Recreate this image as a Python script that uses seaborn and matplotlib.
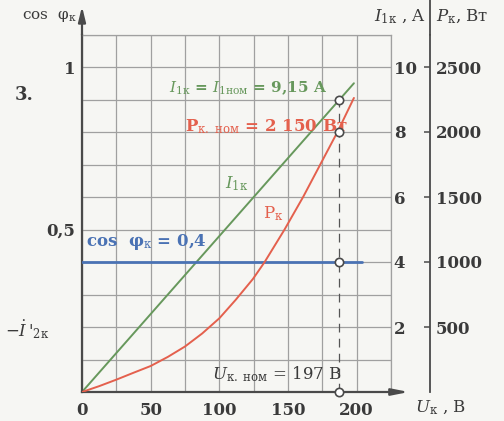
import numpy as np
import pandas as pd
import seaborn as sns
import matplotlib.pyplot as plt

# data
u_i = [0, 198]
i_1k = [0, 9.5]

u_p = [0, 12.5, 25, 37.5, 50, 62.5, 75, 87.5, 100, 112, 124.5, 133, 147.5, 161, 173, 186, 198]
p_k = [0, 45, 95, 148, 200, 270, 350, 450, 567, 710, 870, 1000, 1250, 1500, 1740, 2000, 2262]

u_cos = [0, 204]
cos_k = [0.4, 0.4]

u_nom = 187
i_nom = 9.0
p_nom = 2000

x_ticks = [0, 50, 100, 150, 200]
i_ticks = [2, 4, 6, 8, 10]
p_ticks = [500, 1000, 1500, 2000, 2500]
cos_ticks = [0.5, 1]
cos_labels = ['0,5', '1']

sns.set_style('white')
plt.rcParams['font.family'] = ['DejaVu Serif']
plt.rcParams['mathtext.fontset'] = 'dejavuserif'

bg = '#f6f6f3'
dark = '#4a4a4a'
txt = '#3a3a3a'
gridc = '#a0a0a0'
green = '#67985c'
red = '#e4604d'
blue = '#4a72b4'

fig = plt.figure(figsize=(5.04, 4.21), dpi=100, facecolor=bg)
ax = fig.add_axes([82/504, 29/421, 309/504, 357.5/421])
ax.set_facecolor(bg)
ax.set_xlim(0, 225)
ax.set_ylim(0, 11)

ax_cos = ax.twinx()
ax_p = ax.twinx()

# grid
ax.set_xticks(np.arange(0, 226, 25))
ax.set_xticklabels([str(int(v)) if v in x_ticks else '' for v in np.arange(0, 226, 25)])
ax.set_yticks(np.arange(0, 12, 1))
ax.set_yticklabels([str(v) if v in i_ticks else '' for v in range(12)])
ax.yaxis.tick_right()
ax.grid(True, color=gridc, lw=0.9)
ax.tick_params(axis='both', length=0, labelsize=12, labelcolor=txt)
ax.tick_params(axis='x', pad=7)
ax.tick_params(axis='y', pad=2)
for lab in ax.get_xticklabels() + ax.get_yticklabels():
    lab.set_fontweight('bold')
for s in ['top', 'right']:
    ax.spines[s].set_color(gridc)
    ax.spines[s].set_linewidth(0.9)
for s in ['left', 'bottom']:
    ax.spines[s].set_color(dark)
    ax.spines[s].set_linewidth(1.6)

# axis arrows
ax.annotate('', xy=(0, 11.95), xytext=(0, 10.9), annotation_clip=False,
            arrowprops=dict(arrowstyle='-|>,head_length=0.9,head_width=0.22', color=dark, lw=1.6))
ax.annotate('', xy=(240, 0), xytext=(224, 0), annotation_clip=False,
            arrowprops=dict(arrowstyle='-|>,head_length=1.0,head_width=0.2', color=dark, lw=1.6))

# curves
sns.lineplot(x=u_i, y=i_1k, ax=ax, color=green, lw=1.4)
ax.plot([u_nom, u_nom], [0, i_nom], color='#555555', lw=0.9, ls=(0, (7, 5)))

ax_cos.set_ylim(0, 1.1)
ax_cos.yaxis.tick_left()
ax_cos.set_yticks(cos_ticks)
ax_cos.set_yticklabels(cos_labels)
ax_cos.tick_params(axis='y', length=0, pad=5, labelsize=12, labelcolor=txt)
for lab in ax_cos.get_yticklabels():
    lab.set_fontweight('bold')
for s in ax_cos.spines.values():
    s.set_visible(False)
sns.lineplot(x=u_cos, y=cos_k, ax=ax_cos, color=blue, lw=2.0)

ax_p.set_ylim(0, 2750)
ax_p.spines['right'].set_position(('axes', 348/309))
ax_p.spines['right'].set_color(dark)
ax_p.spines['right'].set_linewidth(1.3)
for s in ['top', 'left', 'bottom']:
    ax_p.spines[s].set_visible(False)
ax_p.set_yticks(p_ticks)
ax_p.tick_params(axis='y', direction='in', length=4, width=1.1, color=dark,
                 pad=4, labelsize=12, labelcolor=txt)
for lab in ax_p.get_yticklabels():
    lab.set_fontweight('bold')
ax_p.plot([348/309, 348/309], [1, 392/357.5], transform=ax_p.transAxes,
          color=dark, lw=1.3, clip_on=False)
sns.lineplot(x=u_p, y=p_k, ax=ax_p, color=red, lw=1.4)

# marker circles
mk = dict(marker='o', ms=6, mfc='white', mec=dark, mew=1.2, ls='none', clip_on=False, zorder=5)
ax.plot([u_nom, u_nom], [i_nom, 0], **mk)
ax_p.plot([u_nom], [p_nom], **mk)
ax_cos.plot([u_nom], [0.4], **mk)
for a in [ax, ax_cos, ax_p]:
    a.set_xlabel('')
    a.set_ylabel('')
ax_cos.set_zorder(2)
ax_p.set_zorder(3)
ax_cos.patch.set_visible(False)
ax_p.patch.set_visible(False)

# labels inside
ax.text(63, 9.35, r'$I_{\mathrm{1к}}$ = $I_{\mathrm{1ном}}$ = 9,15 A', color=green,
        fontsize=11, fontweight='bold', va='center')
ax.text(75, 8.15, r'Р$_{\mathrm{к.\ ном}}$ = 2 150 Вт', color=red,
        fontsize=12, fontweight='bold', va='center')
ax.text(104, 6.4, r'$I_{\mathrm{1к}}$', color=green, fontsize=12, va='center')
ax.text(132, 5.5, r'Р$_{\mathrm{к}}$', color=red, fontsize=12, va='center')
ax.text(3, 4.6, r'cos  φ$_{\mathrm{к}}$ = 0,4', color=blue, fontsize=12,
        fontweight='bold', va='center')
ax.text(95, 0.55, r'$U_{\mathrm{к.\ ном}}$ = 197 В', color=txt, fontsize=12,
        va='center')

# labels outside
fig.text(22/504, 1 - 17/421, r'cos  φ$_{\mathrm{к}}$', color=txt, fontsize=11, va='center')
fig.text(15/504, 1 - 95/421, '3.', color=txt, fontsize=13, fontweight='bold', va='center')
fig.text(5/504, 1 - 330/421, r"$-\dot{I}\,'_{\mathrm{2к}}$", color=txt, fontsize=12, va='center')
fig.text(400/504, 1 - 17/421, r'$I_{\mathrm{1к}}$ , A', color=txt, fontsize=12, va='center', ha='center')
fig.text(436/504, 1 - 17/421, r'$P_{\mathrm{к}}$, Вт', color=txt, fontsize=12, va='center')
fig.text(415/504, 1 - 408/421, r'$U_{\mathrm{к}}$ , В', color=txt, fontsize=12, va='center')

fig.savefig('out.png', dpi=100, facecolor=bg)
